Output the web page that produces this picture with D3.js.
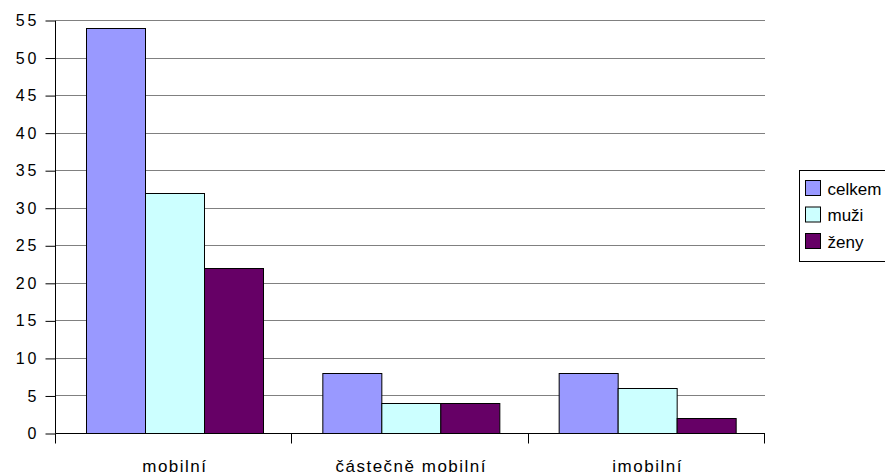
<!DOCTYPE html>
<html>
<head>
<meta charset="utf-8">
<script src="https://cdn.jsdelivr.net/npm/d3@7"></script>
<style>
  body { margin: 0; background: #fff; }
  text { font-family: Arial, "Liberation Sans", sans-serif; }
</style>
</head>
<body>
<div id="chart"></div>
<script>
var categories = ["mobilní", "částečně mobilní", "imobilní"];
var seriesNames = ["celkem", "muži", "ženy"];
var celkem = [54, 8, 8];
var muzi = [32, 4, 6];
var zeny = [22, 4, 2];
var yTicks = [0, 5, 10, 15, 20, 25, 30, 35, 40, 45, 50, 55];

var color = {"celkem": "#9999FF", "muži": "#CCFFFF", "ženy": "#660066"};

var rows = categories.map(function(c, i){
    return {cat: c, values: [celkem[i], muzi[i], zeny[i]]};
});

var svg = d3.select("#chart").append("svg").attr("width", 885).attr("height", 474);

var x = d3.scaleBand().domain(categories).range([56, 765]);
var xs = d3.scaleBand().domain(seriesNames).range([0, x.bandwidth()]).paddingOuter(0.51).paddingInner(0);
var y = d3.scaleLinear().domain([0, 55]).range([433, 20]);

// gridlines
svg.append("g").selectAll("line").data(yTicks.slice(1)).join("line")
    .attr("x1", 56).attr("x2", 765)
    .attr("y1", d => Math.round(y(d)) + 0.5).attr("y2", d => Math.round(y(d)) + 0.5)
    .attr("stroke", "#808080").attr("stroke-width", 1);

// bars
var groups = svg.append("g").selectAll("g").data(rows).join("g")
    .attr("transform", d => "translate(" + x(d.cat) + ",0)");

groups.selectAll("rect").data(d => d.values.map((v, i) => ({name: seriesNames[i], value: v}))).join("rect")
    .attr("x", d => Math.round(xs(d.name)) + 0.5)
    .attr("y", d => Math.round(y(d.value)) + 0.5)
    .attr("width", Math.round(xs.bandwidth()))
    .attr("height", d => Math.round(y(0)) - Math.round(y(d.value)))
    .attr("fill", d => color[d.name])
    .attr("stroke", "#000").attr("stroke-width", 1);

// y axis
var yAxis = svg.append("g").attr("transform", "translate(55.5,0.5)")
    .call(d3.axisLeft(y).tickValues(yTicks).tickSize(10).tickPadding(6));
yAxis.select(".domain").attr("d", "M0," + Math.round(y(55)) + "V" + Math.round(y(0)));
yAxis.selectAll("text")
    .attr("font-size", 16).attr("fill", "#000")
    .attr("font-family", "Arial, 'Liberation Sans', sans-serif")
    .style("letter-spacing", "3px");

// x axis
var xAxis = svg.append("g").attr("transform", "translate(0," + (Math.round(y(0)) + 0.5) + ")");
xAxis.append("line").attr("x1", 55.5).attr("x2", 765).attr("stroke", "#000");
xAxis.selectAll(".xt").data(categories.concat(["end"])).join("line").attr("class", "xt")
    .attr("x1", (d, i) => Math.round(i < categories.length ? x(d) : x.range()[1]) - 0.5)
    .attr("x2", (d, i) => Math.round(i < categories.length ? x(d) : x.range()[1]) - 0.5)
    .attr("y1", 0).attr("y2", 10).attr("stroke", "#000");
xAxis.selectAll("text").data(categories).join("text")
    .attr("x", d => x(d) + x.bandwidth() / 2 + 0.75)
    .attr("y", 38)
    .attr("text-anchor", "middle")
    .attr("font-size", 17)
    .style("letter-spacing", "1.5px")
    .text(d => d);

// legend
var legend = svg.append("g").attr("transform", "translate(799.5,170.5)");
legend.append("rect").attr("width", 100).attr("height", 91)
    .attr("fill", "#fff").attr("stroke", "#000");
var items = legend.selectAll(".item").data(seriesNames).join("g").attr("class", "item")
    .attr("transform", (d, i) => "translate(6," + (10 + i * 26.5) + ")");
items.append("rect").attr("width", 15).attr("height", 15)
    .attr("fill", d => color[d]).attr("stroke", "#000");
items.append("text").attr("x", 22).attr("y", 14).attr("font-size", 17).text(d => d);
</script>
</body>
</html>
